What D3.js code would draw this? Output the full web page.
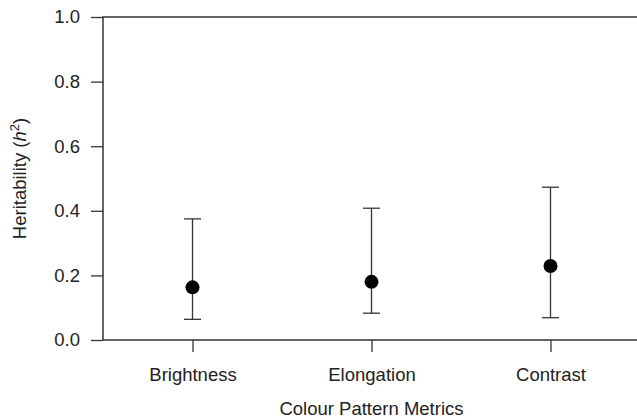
<!DOCTYPE html>
<html><head><meta charset="utf-8">
<script src="https://cdn.jsdelivr.net/npm/d3@7"></script>
<style>body{margin:0;background:#fff}svg{display:block}text{font-family:"Liberation Sans",Arial,sans-serif;fill:#222}</style>
</head><body><svg id="c" width="637" height="418"></svg>
<script>
const categories = ["Brightness", "Elongation", "Contrast"];
const estimates = [0.163, 0.180, 0.229];
const lower = [0.064, 0.083, 0.069];
const upper = [0.375, 0.408, 0.473];
const yTicks = [0.0, 0.2, 0.4, 0.6, 0.8, 1.0];

const svg = d3.select("#c");
const x = d3.scaleLinear().domain([0.5, 3.5]).range([103, 640]);
const y = d3.scaleLinear().domain([0, 1]).range([340, 17]);
const fs = 18.5;

// y axis
const ya = svg.append("g").attr("transform", "translate(103,0)")
  .call(d3.axisLeft(y).tickValues(yTicks).tickFormat(d3.format(".1f")).tickSize(12).tickPadding(11));
ya.select(".domain").remove();
ya.selectAll(".tick line").attr("stroke", "#333").attr("stroke-width", 1.3);
ya.selectAll(".tick text").attr("font-size", fs).attr("fill", "#222").attr("font-family", "Liberation Sans, Arial, sans-serif");

// x axis
const xa = svg.append("g").attr("transform", "translate(0,340)")
  .call(d3.axisBottom(x).tickValues([1, 2, 3]).tickFormat((d) => categories[d - 1]).tickSize(12).tickPadding(16));
xa.select(".domain").remove();
xa.selectAll(".tick line").attr("stroke", "#333").attr("stroke-width", 1.3);
xa.selectAll(".tick text").attr("font-size", fs).attr("fill", "#222").attr("font-family", "Liberation Sans, Arial, sans-serif");

// box: left, top, bottom
const box = d3.path();
box.moveTo(x.range()[1], y(1)); box.lineTo(x.range()[0], y(1));
box.lineTo(x.range()[0], y(0)); box.lineTo(x.range()[1], y(0));
svg.append("path").attr("d", box.toString()).attr("fill", "none").attr("stroke", "#333").attr("stroke-width", 1.5);

// error bars
const idx = d3.range(categories.length);
const g = svg.append("g");
g.selectAll("line.v").data(idx).join("line").attr("class", "v")
  .attr("x1", (i) => x(i + 1)).attr("x2", (i) => x(i + 1))
  .attr("y1", (i) => y(lower[i])).attr("y2", (i) => y(upper[i]))
  .attr("stroke", "#333").attr("stroke-width", 1.3);
[lower, upper].forEach((arr) => {
  g.selectAll(null).data(idx).join("line")
    .attr("x1", (i) => x(i + 1) - 8.5).attr("x2", (i) => x(i + 1) + 8.5)
    .attr("y1", (i) => y(arr[i])).attr("y2", (i) => y(arr[i]))
    .attr("stroke", "#333").attr("stroke-width", 1.3);
});
g.selectAll("circle").data(idx).join("circle")
  .attr("cx", (i) => x(i + 1)).attr("cy", (i) => y(estimates[i])).attr("r", 7).attr("fill", "#000");

// axis titles
svg.append("text").attr("x", (x(1) + x(3)) / 2).attr("y", 415).attr("text-anchor", "middle")
  .attr("font-size", fs).text("Colour Pattern Metrics");
const yt = svg.append("text").attr("transform", `translate(26,${(y(0) + y(1)) / 2}) rotate(-90)`)
  .attr("text-anchor", "middle").attr("font-size", fs);
yt.append("tspan").text("Heritability (");
yt.append("tspan").attr("font-style", "italic").text("h");
yt.append("tspan").attr("font-size", fs * 0.7).attr("dy", -7).text("2");
yt.append("tspan").attr("dy", 7).text(")");
</script></body></html>
